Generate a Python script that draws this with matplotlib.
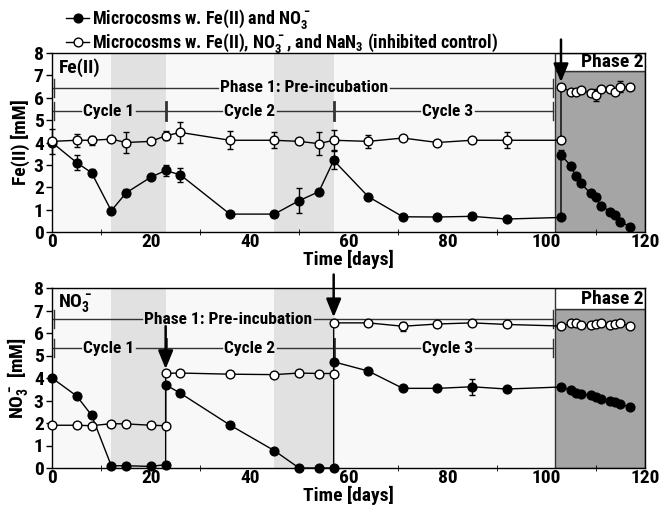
import matplotlib
matplotlib.use("Agg")
import matplotlib.pyplot as plt
from matplotlib.patches import Rectangle
from matplotlib.lines import Line2D

FONT = ['Roboto Condensed', 'Liberation Sans Narrow', 'Roboto', 'DejaVu Sans']
plt.rcParams['font.family'] = FONT
plt.rcParams['font.weight'] = 'bold'
plt.rcParams['mathtext.fontset'] = 'custom'
plt.rcParams['mathtext.rm'] = 'Roboto Condensed:bold'
plt.rcParams['mathtext.bf'] = 'Roboto Condensed:bold'
plt.rcParams['mathtext.default'] = 'bf'

# ---------------- data ----------------
t_fe = [0, 5, 8, 12, 15, 20, 23, 26, 36, 45, 50, 54, 57, 64, 71, 78, 85, 92, 103,
        103, 105, 106, 107, 109, 110, 111, 113, 114, 115, 117]
fe_trt = [4.0, 3.1, 2.65, 0.95, 1.75, 2.45, 2.75, 2.55, 0.8, 0.8, 1.4, 1.8, 3.2, 1.58, 0.68, 0.67, 0.7, 0.58, 0.65,
          3.45, 2.95, 2.5, 2.17, 1.73, 1.58, 1.18, 0.91, 0.76, 0.46, 0.24]
fe_trt_err = [0.1, 0.35, 0.15, 0.1, 0.15, 0.1, 0.25, 0.3, 0.1, 0.15, 0.55, 0.1, 0.4, 0.1, 0.05, 0.05, 0.05, 0.05, 0.05,
              0.2, 0.1, 0.1, 0.1, 0.1, 0.1, 0.1, 0.1, 0.1, 0.15, 0.05]
fe_ctl = [4.05, 4.1, 4.1, 4.15, 4.0, 4.05, 4.3, 4.45, 4.1, 4.1, 4.05, 3.95, 4.1, 4.05, 4.2, 4.0, 4.1, 4.1, 4.1,
          6.5, 6.26, 6.25, 6.34, 6.22, 6.12, 6.41, 6.37, 6.26, 6.49, 6.46]
fe_ctl_err = [0.55, 0.3, 0.2, 0.1, 0.45, 0.1, 0.2, 0.45, 0.4, 0.35, 0.1, 0.5, 0.45, 0.3, 0.1, 0.1, 0.1, 0.35, 0.1,
              0.1, 0.1, 0.1, 0.1, 0.1, 0.25, 0.1, 0.1, 0.1, 0.25, 0.1]

t_no3 = [0, 5, 8, 12, 15, 20, 23, 23, 26, 36, 45, 50, 54, 57, 57, 64, 71, 78, 85, 92, 103,
         105, 106, 107, 109, 110, 111, 113, 114, 115, 117]
no3_trt = [4.0, 3.2, 2.35, 0.1, 0.1, 0.07, 0.15, 3.7, 3.32, 1.91, 0.77, 0.0, 0.0, 0.0, 4.72, 4.31, 3.54, 3.54, 3.61, 3.51, 3.6,
           3.47, 3.35, 3.27, 3.24, 3.14, 3.05, 2.98, 2.92, 2.84, 2.7]
no3_trt_err = [0.05, 0.05, 0.05, 0.05, 0.05, 0.05, 0.05, 0.05, 0.1, 0.05, 0.05, 0.05, 0.05, 0.05, 0.1, 0.15, 0.05, 0.05, 0.35, 0.05, 0.05,
               0.05, 0.05, 0.05, 0.05, 0.05, 0.05, 0.05, 0.05, 0.05, 0.05]
no3_ctl = [1.9, 1.9, 1.88, 1.97, 1.96, 1.9, 1.88, 4.21, 4.22, 4.17, 4.15, 4.22, 4.2, 4.2, 6.45, 6.45, 6.3, 6.4, 6.45, 6.38, 6.31,
           6.43, 6.43, 6.36, 6.36, 6.38, 6.43, 6.36, 6.4, 6.43, 6.31]
no3_ctl_err = [0.05, 0.05, 0.05, 0.05, 0.05, 0.05, 0.05, 0.05, 0.05, 0.05, 0.05, 0.05, 0.05, 0.05, 0.05, 0.05, 0.2, 0.15, 0.1, 0.1, 0.05,
               0.05, 0.05, 0.05, 0.05, 0.05, 0.05, 0.05, 0.05, 0.05, 0.05]

cycle_shades = [(12, 23), (45, 57)]
phase2_start = 101.7
cycle_bounds = [0, 23, 57, 101.3]
cycle_labels = ['Cycle 1', 'Cycle 2', 'Cycle 3']
cycle_label_x = [11.5, 40, 80]
xticks = [0, 20, 40, 60, 80, 100, 120]
yticks = [0, 1, 2, 3, 4, 5, 6, 7, 8]

# ---------------- figure ----------------
fig = plt.figure(figsize=(6.63, 5.08), dpi=100)
ax1 = fig.add_axes([52/663, (508-232)/508, (645-52)/663, (232-53)/508])
ax2 = fig.add_axes([52/663, (508-468)/508, (645-52)/663, (468-288)/508])

LINE_C = '#333333'
gap_jobs = []  # (ax, texts, y, x_left_end, x_right_end)


def style_axes(ax, ylabel, panel_label, phase2_top, phase1_y, phase1_x, cycle_y):
    ax.set_facecolor('#f8f8f8')
    ax.set_xlim(0, 120)
    ax.set_ylim(0, 8)
    ax.set_xticks(xticks)
    ax.set_xticks(range(10, 120, 20), minor=True)
    ax.set_yticks(yticks)
    ax.tick_params(axis='both', labelsize=14, width=1, length=4, direction='out', pad=2)
    ax.tick_params(axis='x', which='major', length=0, pad=1)
    ax.tick_params(axis='x', which='minor', length=4, direction='inout')
    for lab in ax.get_xticklabels() + ax.get_yticklabels():
        lab.set_fontweight('bold')
    ax.set_xlabel('Time [days]', fontsize=14, fontweight='bold', labelpad=0)
    ax.xaxis.set_label_coords(0.5, -0.1)
    ax.set_ylabel(ylabel, fontsize=14, fontweight='bold', labelpad=3)
    for s in ax.spines.values():
        s.set_linewidth(1.0)
    for a, b in cycle_shades:
        ax.axvspan(a, b, color='#e1e1e1', lw=0, zorder=0)
    ax.add_patch(Rectangle((phase2_start, 0), 120 - phase2_start, phase2_top,
                           facecolor='#a5a5a5', edgecolor='#333333', lw=1, zorder=0.5))
    ax.add_patch(Rectangle((phase2_start, phase2_top), 120 - phase2_start, 8 - phase2_top,
                           facecolor='white', edgecolor='#333333', lw=1, zorder=0.5))
    ax.text(113.3, (phase2_top + 8) / 2 - 0.02, 'Phase 2', ha='center', va='center',
            fontsize=14, fontweight='bold', zorder=5)
    ax.text(1.3, 7.35, panel_label, ha='left', va='center', fontsize=14, fontweight='bold', zorder=5)
    # phase 1 line
    t1 = ax.text(phase1_x, phase1_y, 'Phase 1: Pre-incubation', ha='center', va='center',
                 fontsize=12.5, fontweight='bold', zorder=5)
    gap_jobs.append((ax, [t1], phase1_y, 0, cycle_bounds[-1]))
    for xb in (0.4, cycle_bounds[-1]):
        ax.plot([xb, xb], [phase1_y - 0.4, phase1_y + 0.4], color=LINE_C, lw=1, zorder=2)
    # cycle line
    ts = []
    for lab, cx in zip(cycle_labels, cycle_label_x):
        ts.append(ax.text(cx, cycle_y, lab, ha='center', va='center', fontsize=12.5,
                          fontweight='bold', zorder=5))
    gap_jobs.append((ax, ts, cycle_y, 0, cycle_bounds[-1]))
    for xb, lw in zip(cycle_bounds, [1, 2, 2, 1]):
        xx = 0.4 if xb == 0 else xb
        ax.plot([xx, xx], [cycle_y - 0.4, cycle_y + 0.4], color=LINE_C, lw=lw, zorder=2)


def plot_series(ax, t, y, e, filled):
    ax.errorbar(t, y, yerr=e, fmt='-o', color='black', lw=1, elinewidth=1, capsize=2.5, capthick=1,
                ms=6.3, mfc='black' if filled else 'white', mec='black', mew=1, zorder=4, clip_on=False)


style_axes(ax1, 'Fe(II) [mM]', 'Fe(II)', 7.2, 6.45, 51, 5.4)
style_axes(ax2, r'NO$_3^-$ [mM]', r'NO$_3^-$', 7.07, 6.62, 35.7, 5.32)

plot_series(ax1, t_fe, fe_trt, fe_trt_err, True)
plot_series(ax1, t_fe, fe_ctl, fe_ctl_err, False)
plot_series(ax2, t_no3, no3_trt, no3_trt_err, True)
plot_series(ax2, t_no3, no3_ctl, no3_ctl_err, False)

arrow_kw = dict(arrowstyle='-|>,head_length=1.1,head_width=0.45', color='black', lw=1.8, shrinkA=0, shrinkB=0)
ax1.annotate('', xy=(103, 6.7), xytext=(103, 8.6), arrowprops=arrow_kw, annotation_clip=False, zorder=6)
ax2.annotate('', xy=(23, 4.4), xytext=(23, 6.3), arrowprops=arrow_kw, annotation_clip=False, zorder=6)
ax2.annotate('', xy=(57, 6.7), xytext=(57, 8.6), arrowprops=arrow_kw, annotation_clip=False, zorder=6)

handles = [Line2D([0], [0], color='black', lw=1, marker='o', ms=6.3, mfc='black', mec='black'),
           Line2D([0], [0], color='black', lw=1, marker='o', ms=6.3, mfc='white', mec='black')]
labels = [r'Microcosms w. Fe(II) and NO$_3^-$',
          r'Microcosms w. Fe(II), NO$_3^-$, and NaN$_3$ (inhibited control)']
fig.legend(handles, labels, loc='upper left', bbox_to_anchor=(66/663, 1 - 7/508), frameon=False,
           handlelength=1.3, handletextpad=0.15, labelspacing=0.0, borderaxespad=0, borderpad=0,
           prop={'weight': 'bold', 'size': 13, 'family': FONT})

# draw line segments with gaps around the label texts
fig.canvas.draw()
renderer = fig.canvas.get_renderer()
for ax, texts, y, x0, x1 in gap_jobs:
    inv = ax.transData.inverted()
    spans = []
    for t in texts:
        bb = t.get_window_extent(renderer)
        lx = inv.transform((bb.x0 - 2, bb.y0))[0]
        rx = inv.transform((bb.x1 + 2, bb.y0))[0]
        spans.append((lx, rx))
    spans.sort()
    cur = x0
    for lx, rx in spans:
        ax.plot([cur, lx], [y, y], color=LINE_C, lw=1, zorder=2)
        cur = rx
    ax.plot([cur, x1], [y, y], color=LINE_C, lw=1, zorder=2)

fig.savefig('out.png', dpi=100)
